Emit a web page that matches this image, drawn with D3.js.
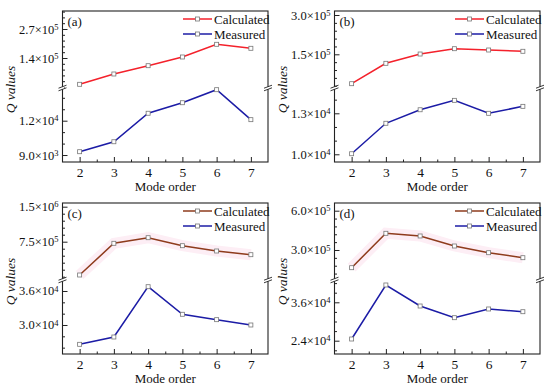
<!DOCTYPE html>
<html>
<head>
<meta charset="utf-8">
<script src="https://cdn.jsdelivr.net/npm/d3@7"></script>
<style>
  body { margin: 0; background: #fff; }
  svg { display: block; }
  svg text { font-family: "Liberation Serif", "Times New Roman", serif; }
</style>
</head>
<body>
<svg id="chart" width="550" height="388"></svg>
<script>
/* ---------- data ---------- */
var modeOrder = [2, 3, 4, 5, 6, 7];
var seriesNames = ["Calculated", "Measured"];
var panelLabels = ["(a)", "(b)", "(c)", "(d)"];

// calculated Q values (upper part of the broken axis)
var calcA = [22100, 68300, 105500, 144500, 201400, 183500];
var calcB = [37800, 115600, 151100, 171400, 166400, 161500];
var calcC = [36400, 715700, 835700, 664300, 550700, 471400];
var calcD = [164900, 427500, 407000, 330500, 279400, 241200];

// measured Q values (lower part of the broken axis)
var measA = [9290, 10160, 12650, 13570, 14710, 12090];
var measB = [10040, 12270, 13260, 13950, 13000, 13510];
var measC = [26590, 27880, 36760, 31890, 30940, 30000];
var measD = [24530, 41410, 34840, 31190, 33910, 33060];

// axis ranges and tick values for each segment
var upperDomains = [[10000, 350700], [25200, 315300], [-49300, 1579300], [78600, 658800]];
var lowerDomains = [[8390, 14770], [9435, 14780], [24880, 37765], [19844, 42656]];
var upperTicks = [[140000, 270000], [150000, 300000], [750000, 1500000], [300000, 600000]];
var lowerTicks = [[9000, 12000], [10000, 13000], [30000, 36000], [24000, 36000]];

/* ---------- layout / style ---------- */
var FONT = "'Liberation Serif', 'Times New Roman', serif";
var INK = "#111";
var svg = d3.select("#chart");
var plotW = 205.5, plotH = 151, breakAt = 77;
var xDomain = [1.5, 7.5];
var lefts = [62.5, 334.5, 62.5, 334.5];
var tops = [11, 11, 203, 203];
var calcColors = ["#f4212b", "#f4212b", "#8e3b1c", "#8e3b1c"];
var measColor = "#1c1ca6";
var minorUp = [5, 5, 5, 5], minorLo = [3, 3, 3, 4];

function expLabel(sel, v) {
  var e = Math.floor(Math.log10(v));
  var m = v / Math.pow(10, e);
  sel.text(null);
  sel.append("tspan").text(m.toFixed(1) + "\u00d710");
  sel.append("tspan").attr("dy", "-0.45em").attr("font-size", "8.5px").text(e);
}

function minorValues(ticks, dom, n) {
  var step = (ticks[1] - ticks[0]) / n;
  var out = [];
  var start = ticks[0] - Math.floor((ticks[0] - dom[0]) / step) * step;
  for (var v = start; v <= dom[1] + 1e-9; v += step) {
    var isMajor = ticks.some(function(t) { return Math.abs(t - v) < step / 10; });
    if (!isMajor) out.push(v);
  }
  return out;
}

function drawPanel(i, calc, meas) {
  var left = lefts[i], top = tops[i];
  var right = left + plotW, bottom = top + plotH;
  var g = svg.append("g").style("font-family", FONT);

  var x = d3.scaleLinear().domain(xDomain).range([left, right]);
  var yUp = d3.scaleLinear().domain(upperDomains[i]).range([top + breakAt - 1, top]);
  var yLo = d3.scaleLinear().domain(lowerDomains[i]).range([bottom, top + breakAt + 1]);

  // faint pink halo behind the brown curves in (c) and (d)
  if (i >= 2) {
    g.append("path")
      .datum(calc)
      .attr("fill", "none")
      .attr("stroke", "#fdeef5")
      .attr("stroke-width", 11)
      .attr("d", d3.line().x(function(d, k) { return x(modeOrder[k]); }).y(function(d) { return yUp(d); }));
  }

  // frame
  g.append("rect")
    .attr("x", left).attr("y", top)
    .attr("width", plotW).attr("height", plotH)
    .attr("fill", "none").attr("stroke", "#222").attr("stroke-width", 1.1);

  // x axis ticks
  var xAx = g.append("g").attr("transform", "translate(0," + bottom + ")")
    .call(d3.axisBottom(x).tickValues(modeOrder).tickSize(-5).tickPadding(5).tickFormat(d3.format("d")))
    .attr("font-size", 13.5);
  xAx.select(".domain").remove();
  xAx.selectAll("text").attr("fill", INK).style("font-family", FONT);
  xAx.selectAll("line").attr("stroke", "#222");
  var xMin = g.append("g").attr("transform", "translate(0," + bottom + ")")
    .call(d3.axisBottom(x).tickValues([2.5, 3.5, 4.5, 5.5, 6.5]).tickSize(-2.5).tickFormat(""));
  xMin.select(".domain").remove();
  xMin.selectAll("line").attr("stroke", "#222");

  // y axes (upper and lower segments)
  [[yUp, upperTicks[i], upperDomains[i], minorUp[i]], [yLo, lowerTicks[i], lowerDomains[i], minorLo[i]]].forEach(function(s) {
    var ax = g.append("g").attr("transform", "translate(" + left + ",0)")
      .call(d3.axisLeft(s[0]).tickValues(s[1]).tickSize(-5).tickPadding(4))
      .attr("font-size", 12.5);
    ax.select(".domain").remove();
    ax.selectAll("line").attr("stroke", "#222");
    ax.selectAll("text").attr("fill", INK).style("font-family", FONT)
      .each(function(d) { expLabel(d3.select(this), d); });
    var mn = g.append("g").attr("transform", "translate(" + left + ",0)")
      .call(d3.axisLeft(s[0]).tickValues(minorValues(s[1], s[2], s[3])).tickSize(-2.5).tickFormat(""));
    mn.select(".domain").remove();
    mn.selectAll("line").attr("stroke", "#222");
  });

  // axis break marks
  [left, right].forEach(function(bx) {
    var by = top + breakAt;
    g.append("rect").attr("x", bx - 2).attr("y", by - 1.2).attr("width", 4).attr("height", 2.4).attr("fill", "#fff");
    [-1.3, 1.3].forEach(function(off) {
      g.append("line")
        .attr("x1", bx - 4).attr("y1", by + off + 1.5)
        .attr("x2", bx + 4).attr("y2", by + off - 1.5)
        .attr("stroke", "#222").attr("stroke-width", 0.9);
    });
  });

  // data lines
  var lineUp = d3.line().x(function(d, k) { return x(modeOrder[k]); }).y(function(d) { return yUp(d); });
  var lineLo = d3.line().x(function(d, k) { return x(modeOrder[k]); }).y(function(d) { return yLo(d); });
  g.append("path").datum(calc).attr("fill", "none").attr("stroke", calcColors[i]).attr("stroke-width", 1.5).attr("d", lineUp);
  g.append("path").datum(meas).attr("fill", "none").attr("stroke", measColor).attr("stroke-width", 1.5).attr("d", lineLo);

  function markers(data, y) {
    g.selectAll(null).data(data).enter().append("rect")
      .attr("x", function(d, k) { return x(modeOrder[k]) - 2; })
      .attr("y", function(d) { return y(d) - 2; })
      .attr("width", 4).attr("height", 4)
      .attr("fill", "#fff").attr("stroke", "#777").attr("stroke-width", 0.8);
  }
  markers(calc, yUp);
  markers(meas, yLo);

  // legend
  [calcColors[i], measColor].forEach(function(c, k) {
    var ly = top + 8 + k * 15;
    g.append("line").attr("x1", right - 85).attr("x2", right - 56).attr("y1", ly).attr("y2", ly)
      .attr("stroke", c).attr("stroke-width", 1.5);
    g.append("rect").attr("x", right - 72.5).attr("y", ly - 2).attr("width", 4).attr("height", 4)
      .attr("fill", "#fff").attr("stroke", "#777").attr("stroke-width", 0.8);
    g.append("text").attr("x", right - 54).attr("y", ly).attr("dy", "0.35em")
      .attr("font-size", "13px").attr("fill", INK).style("font-family", FONT).text(seriesNames[k]);
  });

  // panel label
  g.append("text").attr("x", left + 5).attr("y", top + 10).attr("dy", "0.35em")
    .attr("font-size", "13px").attr("fill", INK).style("font-family", FONT).text(panelLabels[i]);

  // axis titles
  g.append("text").attr("x", (left + right) / 2).attr("y", bottom + 29)
    .attr("text-anchor", "middle").attr("font-size", "13px").attr("fill", INK)
    .style("font-family", FONT).text("Mode order");
  var yl = g.append("text")
    .attr("transform", "translate(" + (left - 52.5) + "," + ((top + bottom) / 2 + 3) + ") rotate(-90)")
    .attr("text-anchor", "middle").attr("dy", "0.35em")
    .attr("font-size", "13.5px").attr("font-style", "italic").attr("fill", INK)
    .style("font-family", FONT);
  yl.append("tspan").text("Q");
  yl.append("tspan").text(" values");
}

drawPanel(0, calcA, measA);
drawPanel(1, calcB, measB);
drawPanel(2, calcC, measC);
drawPanel(3, calcD, measD);
</script>
</body>
</html>
